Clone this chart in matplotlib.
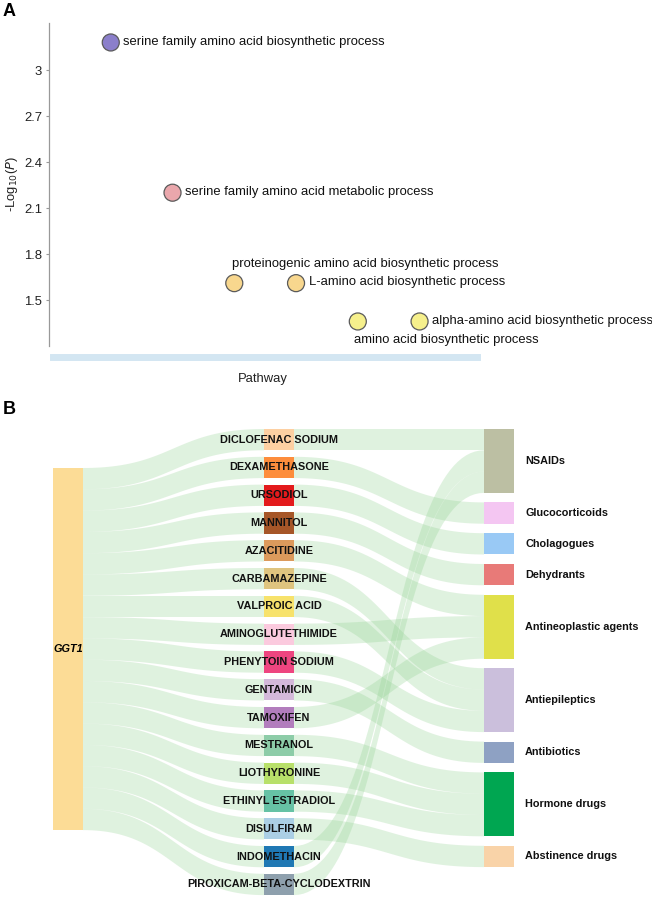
import matplotlib
matplotlib.use("Agg")
import matplotlib.pyplot as plt
import numpy as np
from matplotlib.patches import Rectangle, Polygon

plt.rcParams["font.family"] = ["Liberation Sans", "DejaVu Sans"]

# ---- panel A data ----
pathways = [
    "serine family amino acid biosynthetic process",
    "serine family amino acid metabolic process",
    "proteinogenic amino acid biosynthetic process",
    "L-amino acid biosynthetic process",
    "amino acid biosynthetic process",
    "alpha-amino acid biosynthetic process",
]
neg_log_p = [3.18, 2.20, 1.61, 1.61, 1.36, 1.36]
bubble_colors = ["#8b7fcb", "#eaa7ac", "#f8d78e", "#f8d78e", "#f6f08c", "#f6f08c"]
label_side = ["right", "right", "above", "right", "below", "right"]
y_ticks = [1.5, 1.8, 2.1, 2.4, 2.7, 3]

# ---- panel B data ----
gene = "GGT1"
drugs = [
    "DICLOFENAC SODIUM", "DEXAMETHASONE", "URSODIOL", "MANNITOL", "AZACITIDINE",
    "CARBAMAZEPINE", "VALPROIC ACID", "AMINOGLUTETHIMIDE", "PHENYTOIN SODIUM",
    "GENTAMICIN", "TAMOXIFEN", "MESTRANOL", "LIOTHYRONINE", "ETHINYL ESTRADIOL",
    "DISULFIRAM", "INDOMETHACIN", "PIROXICAM-BETA-CYCLODEXTRIN",
]
drug_class = [
    "NSAIDs", "Glucocorticoids", "Cholagogues", "Dehydrants", "Antineoplastic agents",
    "Antiepileptics", "Antiepileptics", "Antineoplastic agents", "Antiepileptics",
    "Antibiotics", "Antineoplastic agents", "Hormone drugs", "Hormone drugs",
    "Hormone drugs", "Abstinence drugs", "NSAIDs", "NSAIDs",
]
drug_colors = [
    "#fdd0a2", "#fd8d3c", "#e31a1c", "#a65628", "#dc9a5c", "#dfc47f", "#f7e26b",
    "#fbcade", "#ee4580", "#d4b9da", "#b27dbd", "#8dcca8", "#b8e06a", "#66c2a5",
    "#abcfe5", "#1f78b4", "#8ea0ad",
]
classes = [
    "NSAIDs", "Glucocorticoids", "Cholagogues", "Dehydrants", "Antineoplastic agents",
    "Antiepileptics", "Antibiotics", "Hormone drugs", "Abstinence drugs",
]
class_colors = [
    "#bcbfa3", "#f4c6f2", "#99c9f5", "#e87a78", "#e0e04a",
    "#cbbfdc", "#8ea1c3", "#00a651", "#f9d3a8",
]
gene_color = "#fcdc96"
flow_color = "#8fd18f"

W, H = 652, 897
fig = plt.figure(figsize=(W / 100, H / 100), dpi=100)

# ================= panel A =================
axL, axR, axT, axB = 49, 477, 23, 346
ax = fig.add_axes([axL / W, 1 - axB / H, (axR - axL) / W, (axB - axT) / H])
x = np.arange(1, len(pathways) + 1)
ax.scatter(x, neg_log_p, s=150, c=bubble_colors, edgecolors="#5a5a5a",
           linewidths=0.9, zorder=3, clip_on=False)
fs_a = 9.4
for xi, yi, name, side in zip(x, neg_log_p, pathways, label_side):
    if side == "right":
        ax.annotate(name, (xi, yi), xytext=(9, 0.5), textcoords="offset points",
                    ha="left", va="center", fontsize=fs_a, color="#111111")
    elif side == "above":
        ax.annotate(name, (xi, yi), xytext=(-1.5, 14), textcoords="offset points",
                    ha="left", va="center", fontsize=fs_a, color="#111111")
    else:
        ax.annotate(name, (xi, yi), xytext=(-2.5, -13), textcoords="offset points",
                    ha="left", va="center", fontsize=fs_a, color="#111111")

ax.set_xlim(0, 6.93)
ax.set_ylim(1.2, 3.307)
ax.set_yticks(y_ticks)
ax.set_yticklabels(["1.5", "1.8", "2.1", "2.4", "2.7", "3"])
ax.tick_params(axis="y", length=2, width=0.8, color="#999999", labelsize=fs_a,
               labelcolor="#222222", pad=3)
ax.set_xticks([])
for s in ["top", "right"]:
    ax.spines[s].set_visible(False)
ax.spines["left"].set_color("#999999")
ax.spines["left"].set_linewidth(0.9)
ax.spines["bottom"].set_position(("outward", 7.6))
ax.spines["bottom"].set_color("#d3e6f2")
ax.spines["bottom"].set_linewidth(5.0)
ax.spines["bottom"].set_bounds(0.065, 6.93)
ax.set_xlabel("Pathway", fontsize=fs_a, color="#222222", labelpad=12)
ax.set_ylabel(r"-Log$_{10}$($\it{P}$)", fontsize=fs_a, color="#222222", labelpad=3)

fig.text(3 / W, 1 - 12 / H, "A", fontsize=13, fontweight="bold", va="center")
fig.text(3 / W, 1 - 409 / H, "B", fontsize=13, fontweight="bold", va="center")

# ================= panel B =================
bx = fig.add_axes([0, 0, 1, 1])
bx.set_xlim(0, W)
bx.set_ylim(H, 0)
bx.axis("off")

unit = 21.3
gene_x0, gene_x1, gene_top = 53, 83, 468
drug_x0, drug_x1, drug_top, drug_pitch = 264, 294, 429, 27.8
cls_x0, cls_x1, cls_top, cls_gap = 484, 514, 429, 9.5
fs_b = 7.8


def band(xa, ya, xb, yb, w):
    t = np.linspace(0, 1, 60)
    xm = (xa + xb) / 2
    bx_ = (1 - t) ** 3 * xa + 3 * (1 - t) ** 2 * t * xm + 3 * (1 - t) * t ** 2 * xm + t ** 3 * xb
    by_ = (1 - t) ** 3 * ya + 3 * (1 - t) ** 2 * t * ya + 3 * (1 - t) * t ** 2 * yb + t ** 3 * yb
    pts = np.vstack([np.column_stack([bx_, by_]),
                     np.column_stack([bx_[::-1], by_[::-1] + w])])
    bx.add_patch(Polygon(pts, closed=True, facecolor=flow_color, edgecolor="none",
                         alpha=0.28, zorder=1))


# class node positions from member counts
counts = [drug_class.count(c) for c in classes]
cls_y = []
y = cls_top
for n in counts:
    cls_y.append(y)
    y += n * unit + cls_gap
cls_fill = [0] * len(classes)

# flows
for i, (d, c) in enumerate(zip(drugs, drug_class)):
    dy = drug_top + i * drug_pitch
    band(gene_x1, gene_top + i * unit, drug_x0, dy, unit)
    k = classes.index(c)
    band(drug_x1, dy, cls_x0, cls_y[k] + cls_fill[k] * unit, unit)
    cls_fill[k] += 1

# nodes
bx.add_patch(Rectangle((gene_x0, gene_top), gene_x1 - gene_x0, unit * len(drugs),
                       facecolor=gene_color, edgecolor="none", zorder=2))
bx.text(gene_x0, gene_top + unit * len(drugs) / 2, gene, fontsize=fs_b,
        fontweight="bold", fontstyle="italic", ha="left", va="center", zorder=3)

for i, (d, col) in enumerate(zip(drugs, drug_colors)):
    dy = drug_top + i * drug_pitch
    bx.add_patch(Rectangle((drug_x0, dy), drug_x1 - drug_x0, unit,
                           facecolor=col, edgecolor="none", zorder=2))
    bx.text((drug_x0 + drug_x1) / 2, dy + unit / 2, d, fontsize=fs_b,
            fontweight="bold", ha="center", va="center", color="#111111", zorder=3)

for c, col, yc, n in zip(classes, class_colors, cls_y, counts):
    bx.add_patch(Rectangle((cls_x0, yc), cls_x1 - cls_x0, n * unit,
                           facecolor=col, edgecolor="none", zorder=2))
    bx.text(cls_x1 + 11, yc + n * unit / 2, c, fontsize=fs_b, fontweight="bold",
            ha="left", va="center", color="#111111", zorder=3)

fig.savefig("out.png", dpi=100)
